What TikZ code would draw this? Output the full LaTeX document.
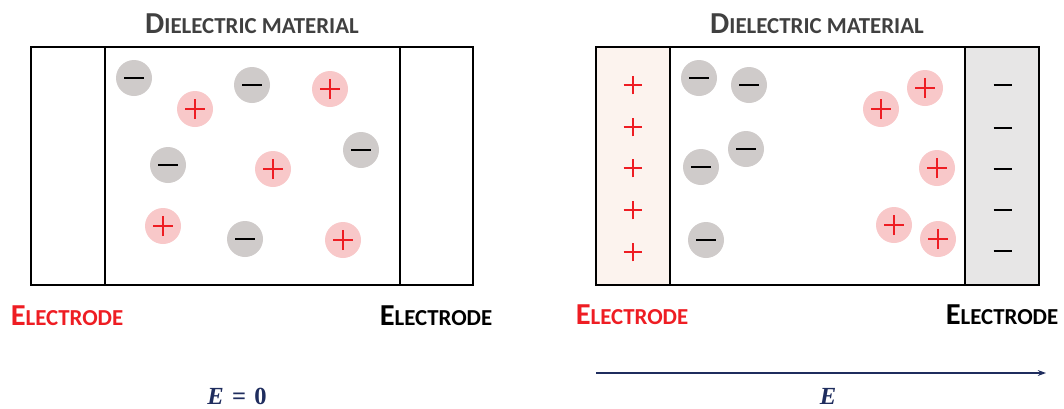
\documentclass[tikz,border=0pt]{standalone}
\usepackage{fontspec}
\setmainfont{Carlito}
\newfontfamily\fieldfont{Liberation Serif}
\usetikzlibrary{arrows.meta}

\definecolor{ionpink}{HTML}{F8C8C9}
\definecolor{iongray}{HTML}{CFCBCA}
\definecolor{signred}{HTML}{EE1D23}
\definecolor{anodefill}{HTML}{FCF3EE}
\definecolor{cathodefill}{HTML}{E7E6E6}
\definecolor{titlegray}{HTML}{404040}
\definecolor{fieldnavy}{HTML}{1F2D5E}

\newcommand{\smcap}[2]{{\fontsize{26}{26}\selectfont #1}{\fontsize{19.5}{19.5}\selectfont #2}}

\begin{document}
\begin{tikzpicture}[x=0.03cm,y=-0.03cm,>=Stealth,font=\bfseries,
    box/.style={line width=1.5pt},
    ion/.style={circle,minimum size=1.08cm,inner sep=0pt},
    negion/.style={ion,fill=iongray,path picture={
        \draw[line width=1.9pt] ([xshift=-0.3cm]path picture bounding box.center) -- ([xshift=0.3cm]path picture bounding box.center);}},
    posion/.style={ion,fill=ionpink,path picture={
        \draw[line width=1.9pt,signred] ([xshift=-0.3cm]path picture bounding box.center) -- ([xshift=0.3cm]path picture bounding box.center);
        \draw[line width=1.9pt,signred] ([yshift=-0.3cm]path picture bounding box.center) -- ([yshift=0.3cm]path picture bounding box.center);}},
    plussign/.style={minimum size=0.6cm,inner sep=0pt,path picture={
        \draw[line width=1.3pt,signred] ([xshift=-0.28cm]path picture bounding box.center) -- ([xshift=0.28cm]path picture bounding box.center);
        \draw[line width=1.3pt,signred] ([yshift=-0.28cm]path picture bounding box.center) -- ([yshift=0.28cm]path picture bounding box.center);}},
    minussign/.style={minimum size=0.6cm,inner sep=0pt,path picture={
        \draw[line width=1.3pt] ([xshift=-0.28cm]path picture bounding box.center) -- ([xshift=0.28cm]path picture bounding box.center);}},
    label/.style={inner sep=0pt},
    fieldlabel/.style={fieldnavy,font=\fieldfont\fontsize{21}{21}\selectfont\bfseries}]

    \useasboundingbox (0,0) rectangle (1064,408);

    % ---- Left: no field ----
    \node [label,titlegray] (titleL) at (252,24) {\smcap{D}{IELECTRIC MATERIAL}};
    \draw [box] (31,47) rectangle (473,285);
    \draw [box] (105,47) -- (105,285);
    \draw [box] (400,47) -- (400,285);

    \node [negion] (nL1) at (134,78) {};
    \node [posion] (pL1) at (195,109) {};
    \node [negion] (nL2) at (252,85) {};
    \node [posion] (pL2) at (330,89) {};
    \node [negion] (nL3) at (361,150) {};
    \node [negion] (nL4) at (168,165) {};
    \node [posion] (pL3) at (273,169) {};
    \node [posion] (pL4) at (163,226) {};
    \node [negion] (nL5) at (245,239) {};
    \node [posion] (pL5) at (343,240) {};

    \node [label,signred] (elecLa) at (67,316) {\smcap{E}{LECTRODE}};
    \node [label] (elecLb) at (436,316) {\smcap{E}{LECTRODE}};
    \node [fieldlabel] (fieldL) at (237,396) {\textit{E}\,\,=\,\,0};

    % ---- Right: applied field ----
    \node [label,titlegray] (titleR) at (817,24) {\smcap{D}{IELECTRIC MATERIAL}};
    \fill [anodefill] (596,47) rectangle (670,285);
    \fill [cathodefill] (965,47) rectangle (1039,285);
    \draw [box] (596,47) rectangle (1039,285);
    \draw [box] (670,47) -- (670,285);
    \draw [box] (965,47) -- (965,285);

    % surface charges
    \node [plussign] (a1) at (633,85) {};
    \node [plussign] (a2) at (633,127) {};
    \node [plussign] (a3) at (633,168) {};
    \node [plussign] (a4) at (633,210) {};
    \node [plussign] (a5) at (633,252) {};
    \node [minussign] (c1) at (1003,85) {};
    \node [minussign] (c2) at (1003,128) {};
    \node [minussign] (c3) at (1003,169) {};
    \node [minussign] (c4) at (1003,210) {};
    \node [minussign] (c5) at (1003,251) {};

    % polarised ions
    \node [negion] (nR1) at (699,78) {};
    \node [negion] (nR2) at (749,85) {};
    \node [negion] (nR3) at (746,149) {};
    \node [negion] (nR4) at (701,167) {};
    \node [negion] (nR5) at (706,240) {};
    \node [posion] (pR1) at (881,109) {};
    \node [posion] (pR2) at (925,88) {};
    \node [posion] (pR3) at (937,168) {};
    \node [posion] (pR4) at (894,225) {};
    \node [posion] (pR5) at (938,239) {};

    \node [label,signred] (elecRa) at (632,315) {\smcap{E}{LECTRODE}};
    \node [label] (elecRb) at (1002,315) {\smcap{E}{LECTRODE}};

    \coordinate (fieldstart) at (596,373);
    \coordinate (fieldend) at (1046,373);
    \draw [fieldnavy,line width=1.1pt,-{Stealth[length=7pt,width=5pt]}] (fieldstart) -- (fieldend);
    \node [fieldlabel] (fieldR) at (828,396) {\textit{E}};

\end{tikzpicture}
\end{document}
